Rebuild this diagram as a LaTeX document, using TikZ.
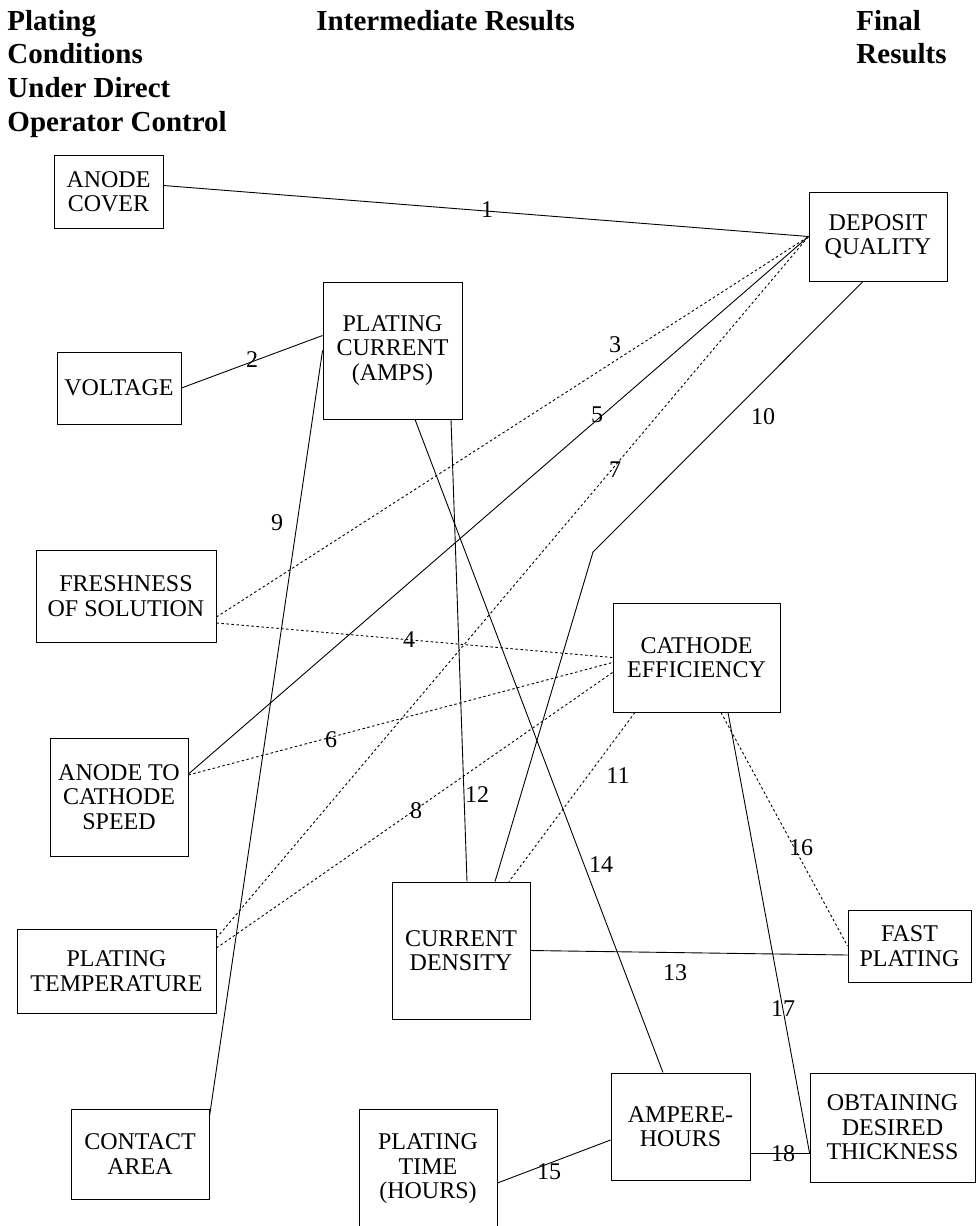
\documentclass[tikz,border=0pt]{standalone}
\usepackage{fontspec}
\setmainfont{Liberation Serif}
\usepackage{tikz}
\tikzset{
    every node/.style={draw, inner sep=0pt, align=center,
    	font=\fontsize{24}{24.5}\selectfont}
}
\tikzset{
    every edge/.append style={line width=.9pt}
}
\tikzset{
	lbl/.style={draw=none},
	head/.style={draw=none, align=left, anchor=north west,
		font=\fontsize{29}{33.7}\selectfont\bfseries},
	weak/.style={dash pattern=on 2.5pt off 2.5pt}
}

\begin{document}
\begin{tikzpicture}[x=1pt, y=-1pt, line width=.9pt]
	\useasboundingbox (0,0) rectangle (976,1226);

	% column heads
	\node[head] (cond) at (7,9.5) {Plating\\Conditions\\Under Direct\\Operator Control};
	\node[head] (inter) at (316,9.5) {Intermediate Results};
	\node[head] (final) at (856,9.5) {Final\\Results};

	% conditions
	\node[minimum width=109pt, minimum height=73pt] (cover) at (108.5,191.5) {ANODE\\COVER};
	\node[minimum width=124pt, minimum height=72pt] (volt) at (119,388) {VOLTAGE};
	\node[minimum width=180pt, minimum height=92pt] (fresh) at (126,596) {FRESHNESS\\OF SOLUTION};
	\node[minimum width=138pt, minimum height=118pt] (speed) at (119,797) {ANODE TO\\CATHODE\\SPEED};
	\node[minimum width=199pt, minimum height=84pt] (temp) at (116.5,971) {PLATING\\TEMPERATURE};
	\node[minimum width=138pt, minimum height=90pt] (contact) at (140,1154) {CONTACT\\AREA};

	% intermediate
	\node[minimum width=139pt, minimum height=137pt] (amps) at (392.5,350.5) {PLATING\\CURRENT\\(AMPS)};
	\node[minimum width=167pt, minimum height=109pt] (effic) at (696.5,657.5) {CATHODE\\EFFICIENCY};
	\node[minimum width=138pt, minimum height=137pt] (density) at (461,950.5) {CURRENT\\DENSITY};
	\node[minimum width=139pt, minimum height=107pt] (amphr) at (680.5,1126.5) {AMPERE-\\HOURS};
	\node[minimum width=138pt, minimum height=120pt] (time) at (428,1169) {PLATING\\TIME\\(HOURS)};

	% final
	\node[minimum width=138pt, minimum height=89pt] (quality) at (878,236.5) {DEPOSIT\\QUALITY};
	\node[minimum width=123pt, minimum height=72pt] (fast) at (909.5,946) {FAST\\PLATING};
	\node[minimum width=165pt, minimum height=109pt] (thick) at (892.5,1127.5) {OBTAINING\\DESIRED\\THICKNESS};

	\coordinate (kink) at (593,552);

	\draw ([yshift=6pt]cover.east) edge (quality.west);
	\draw (volt.east) edge ([yshift=15pt]amps.west);
	\draw ([yshift=-21pt]fresh.east) edge[weak] (quality.west);
	\draw ([yshift=-27pt]fresh.east) edge[weak] (effic.west);
	\draw ([yshift=23pt]speed.east) edge (quality.west);
	\draw ([yshift=22pt]speed.east) edge[weak] ([yshift=-5pt]effic.west);
	\draw ([yshift=33pt]temp.east) edge[weak] (quality.west);
	\draw ([yshift=23pt]temp.east) edge[weak] ([yshift=-15pt]effic.west);
	\draw (amps.west) edge ([yshift=-8pt]contact.north east);
	\draw ([xshift=-15pt]quality.south) -- (kink) -- ([xshift=34pt]density.north);
	\draw ([xshift=-61.5pt]effic.south) edge[weak] ([xshift=48pt]density.north);
	\draw ([xshift=58.5pt]amps.south) edge ([xshift=6pt]density.north);
	\draw (density.east) edge ([yshift=-9pt]fast.west);
	\draw ([xshift=22.5pt]amps.south) edge ([xshift=-17.5pt]amphr.north);
	\draw ([yshift=-14pt]time.east) edge ([yshift=-13.5pt]amphr.west);
	\draw ([xshift=24.5pt]effic.south) edge[weak] (fast.west);
	\draw ([xshift=31.5pt]effic.south) edge ([yshift=-25.5pt]thick.west);
	\draw ([yshift=-26.5pt]amphr.east) edge ([yshift=-25.5pt]thick.west);

	% link numbers
	\foreach \n/\x/\y in {1/487/210, 2/252/360, 3/615/345, 4/409/640, 5/597/415,
			6/331/740, 7/615/470, 8/416/811, 9/277/523, 10/763/417, 11/618/776,
			12/477/795, 13/675/973, 14/601/865, 15/549/1172, 16/801/848,
			17/783/1009, 18/783/1154}
		\node[lbl] (l\n) at (\x,\y) {\n};
\end{tikzpicture}
\end{document}
